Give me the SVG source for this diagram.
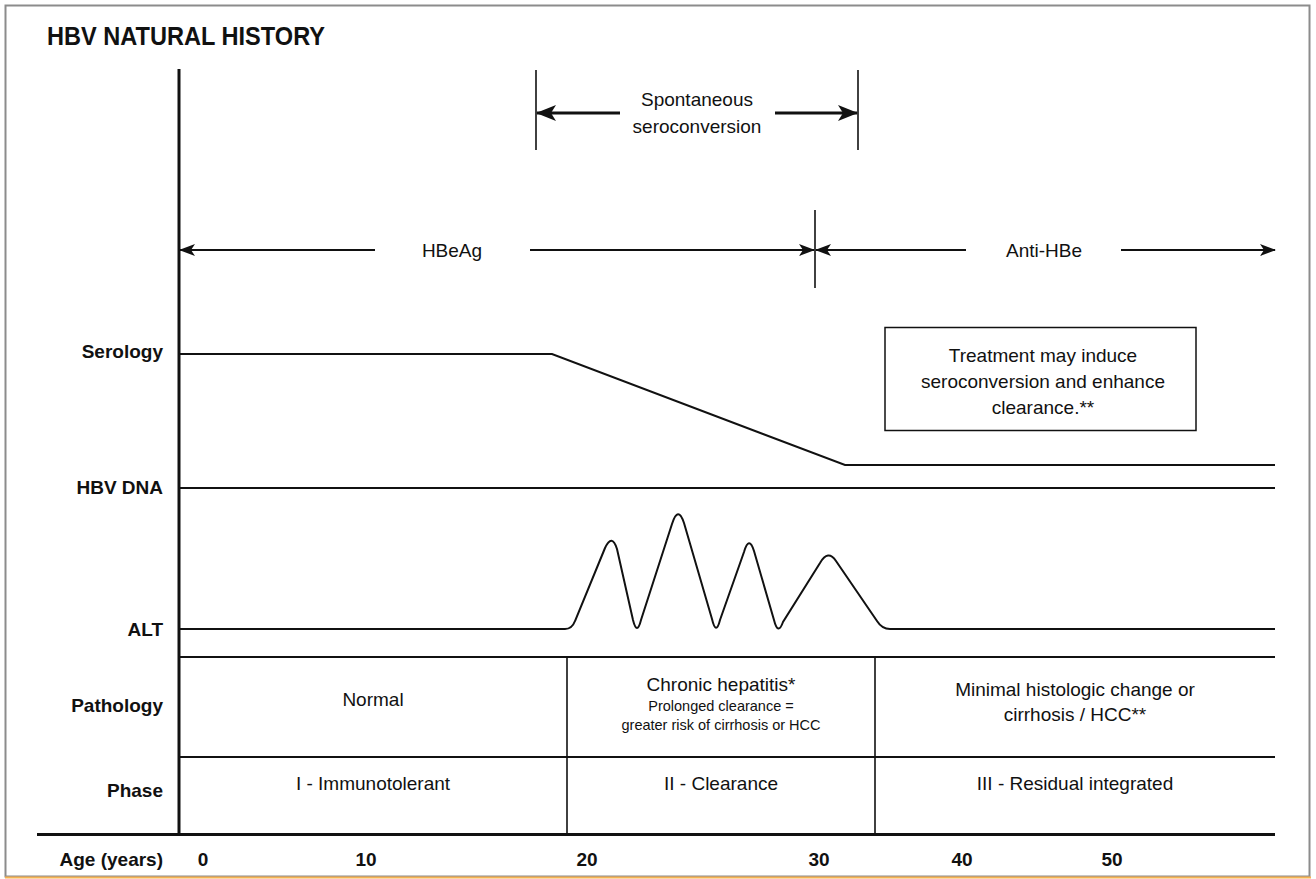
<svg xmlns="http://www.w3.org/2000/svg" width="1316" height="879" viewBox="0 0 1316 879">
<style>
.t{font-family:"Liberation Sans",Arial,sans-serif;fill:#111;}
.r{font-size:19px;text-anchor:middle;}
.s{font-size:14.5px;text-anchor:middle;}
.b{font-size:19px;font-weight:bold;text-anchor:end;}
.n{font-size:19px;font-weight:bold;text-anchor:middle;}
.ln{stroke:#111;stroke-width:2;fill:none;}
.thin{stroke:#111;stroke-width:1.6;fill:none;}
.thick{stroke:#111;stroke-width:3;fill:none;}
</style>
<defs>
<marker id="ah" viewBox="0 0 16 12" refX="15" refY="6" markerWidth="16" markerHeight="12" markerUnits="userSpaceOnUse" orient="auto">
<path d="M0,0 L16,6 L0,12 L4,6 Z" fill="#111"/>
</marker>
<marker id="ahb" viewBox="0 0 20 16" refX="19" refY="8" markerWidth="20" markerHeight="16" markerUnits="userSpaceOnUse" orient="auto">
<path d="M0,0 L20,8 L0,16 L5,8 Z" fill="#111"/>
</marker>
</defs>
<rect x="0" y="0" width="1316" height="879" fill="#ffffff"/>
<g id="frame">
<rect x="5.5" y="5.5" width="1304" height="871" fill="none" stroke="#8c8c8c" stroke-width="2"/>
<line x1="5" y1="877.5" x2="1311" y2="877.5" stroke="#f5b152" stroke-width="2"/>
</g>
<g id="title"><text class="t" x="47" y="45" font-size="26" font-weight="bold" textLength="278" lengthAdjust="spacingAndGlyphs">HBV NATURAL HISTORY</text></g>

<g id="connectors">
<line class="thick" x1="179" y1="69" x2="179" y2="835"/>
<line class="thin" x1="536" y1="70" x2="536" y2="150"/>
<line class="thin" x1="858" y1="70" x2="858" y2="150"/>
<line class="thick" x1="620" y1="113" x2="537" y2="113" marker-end="url(#ahb)"/>
<line class="thick" x1="775" y1="113" x2="857" y2="113" marker-end="url(#ahb)"/>
<line class="thin" x1="815" y1="210" x2="815" y2="288"/>
<line class="ln" x1="375" y1="250" x2="180" y2="250" marker-end="url(#ah)"/>
<line class="ln" x1="530" y1="250" x2="814" y2="250" marker-end="url(#ah)"/>
<line class="ln" x1="966" y1="250" x2="816" y2="250" marker-end="url(#ah)"/>
<line class="ln" x1="1121" y1="250" x2="1275" y2="250" marker-end="url(#ah)"/>
<polyline class="ln" points="179,354 552,354 845,465 1275,465"/>
<line class="ln" x1="179" y1="488" x2="1275" y2="488"/>
<path class="ln" d="M179,629 L565,629 Q572,629 575,621 L605,548 Q612,533 617,549 L633,620 Q637,636 641,620 L672,524 Q678,505 684,523 L712,619 Q716,636 720,620 L744,552 Q749,535 754,551 L774,620 Q778,636 783,622 L820,563 Q828,549 836,561 L877,621 Q882,629 890,629 L1275,629"/>
<line class="ln" x1="179" y1="657" x2="1275" y2="657"/>
<line class="ln" x1="179" y1="757" x2="1275" y2="757"/>
<line class="thin" x1="567" y1="657" x2="567" y2="835"/>
<line class="thin" x1="875" y1="657" x2="875" y2="835"/>
<line class="thick" x1="37" y1="834.5" x2="1275" y2="834.5"/>
</g>

<g id="spontaneous">
<text class="t r" x="697" y="106">Spontaneous</text>
<text class="t r" x="697" y="133">seroconversion</text>
</g>
<g id="hbeag"><text class="t r" x="452" y="257">HBeAg</text></g>
<g id="antihbe"><text class="t r" x="1044" y="257">Anti-HBe</text></g>
<g id="treatment">
<rect x="885" y="327.5" width="311" height="103" fill="none" stroke="#111" stroke-width="1.5"/>
<text class="t r" x="1043" y="362">Treatment may induce</text>
<text class="t r" x="1043" y="388">seroconversion and enhance</text>
<text class="t r" x="1043" y="414">clearance.**</text>
</g>
<g id="labels">
<text class="t b" x="163" y="358">Serology</text>
<text class="t b" x="163" y="494">HBV DNA</text>
<text class="t b" x="163" y="636">ALT</text>
<text class="t b" x="163" y="712">Pathology</text>
<text class="t b" x="163" y="797">Phase</text>
<text class="t b" x="163" y="866">Age (years)</text>
</g>
<g id="path-normal"><text class="t r" x="373" y="706">Normal</text></g>
<g id="path-chronic">
<text class="t r" x="721" y="691">Chronic hepatitis*</text>
<text class="t s" x="721" y="711">Prolonged clearance =</text>
<text class="t s" x="721" y="730">greater risk of cirrhosis or HCC</text>
</g>
<g id="path-minimal">
<text class="t r" x="1075" y="696">Minimal histologic change or</text>
<text class="t r" x="1075" y="721">cirrhosis / HCC**</text>
</g>
<g id="phase1"><text class="t r" x="373" y="790">I - Immunotolerant</text></g>
<g id="phase2"><text class="t r" x="721" y="790">II - Clearance</text></g>
<g id="phase3"><text class="t r" x="1075" y="790">III - Residual integrated</text></g>
<g id="ages">
<text class="t n" x="203" y="866">0</text>
<text class="t n" x="366" y="866">10</text>
<text class="t n" x="587" y="866">20</text>
<text class="t n" x="819" y="866">30</text>
<text class="t n" x="962" y="866">40</text>
<text class="t n" x="1112" y="866">50</text>
</g>
</svg>
